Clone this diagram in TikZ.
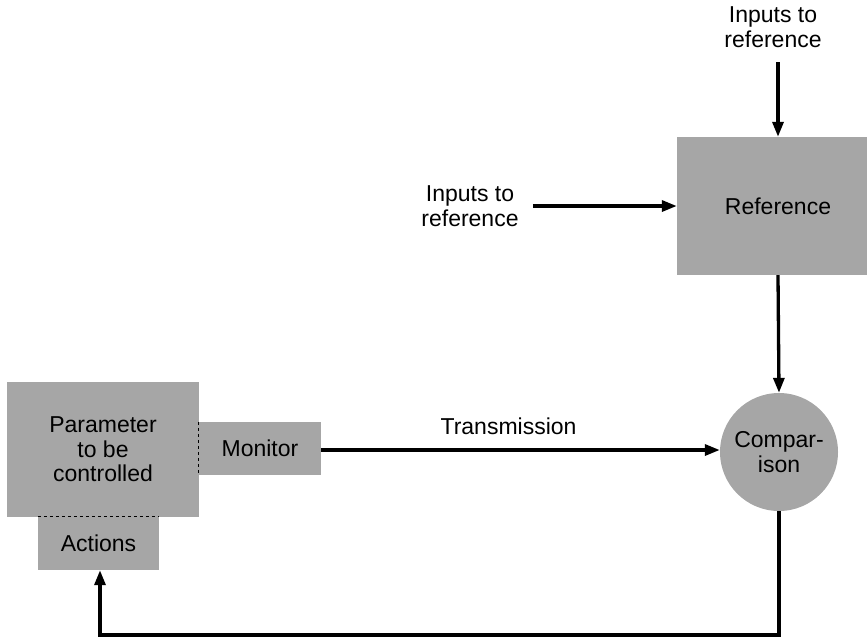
\documentclass[tikz,border=0pt]{standalone}
\usepackage{fontspec}
\setmainfont{Liberation Sans}
\usetikzlibrary{arrows.meta, positioning, calc}
\newcommand{\lblfont}{\fontsize{23}{24.5}\selectfont}
\tikzset{
  blk/.style={rectangle, fill=black!35, inner sep=0pt, align=center, font=\lblfont},
  cmpr/.style={circle, fill=black!35, inner sep=0pt, minimum size=118pt, align=center, font=\lblfont},
  tra/.style={-{Triangle[length=15pt, width=11pt]}, line width=3.3pt},
  tlab/.style={align=center, inner sep=0pt, font=\lblfont},
  sep/.style={line width=1.3pt, dash pattern=on 3.5pt off 2.5pt}
}

\begin{document}
\begin{tikzpicture}[x=1pt, y=-1pt]
	\useasboundingbox (0,0) rectangle (867,638);
	% reference and its inputs
	\node[blk, minimum width=202pt, minimum height=138pt] (ref) at (778,206) {Reference};
	\node[tlab] (intop) at (773,27) {Inputs to\\reference};
	\node[tlab] (inleft) at (470,206) {Inputs to\\reference};
	\draw[tra] (ref.north |- intop.south) ++(0,15) -- (ref.north);
	\draw[tra, shorten <=14pt] (inleft.east |- ref.west) -- (ref.west);
	% comparison
	\node[cmpr] (cmp) at (779,452) {Compar-\\ison};
	\draw[tra] (ref.south) -- (cmp.north);
	% controlled parameter, monitor, actions
	\node[blk, minimum width=192pt, minimum height=135pt] (par) at (103,449.5) {Parameter\\to be\\controlled};
	\node[blk, minimum width=122pt, minimum height=53pt] (mon) at (260,448.5) {Monitor};
	\node[blk, minimum width=121pt, minimum height=53pt] (act) at (98.5,543.5) {Actions};
	\draw[sep] (mon.north west) -- (mon.south west);
	\draw[sep] (act.north west) -- (act.north east);
	% transmission and feedback
	\draw[tra] (mon.east |- 0,450) -- node[tlab, above=14pt, pos=0.47] (trans) {Transmission} (cmp.west |- 0,450);
	\coordinate (fb) at (100,635);
	\draw[tra] (cmp.south) |- (fb) -- (fb |- act.south);
\end{tikzpicture}
\end{document}
